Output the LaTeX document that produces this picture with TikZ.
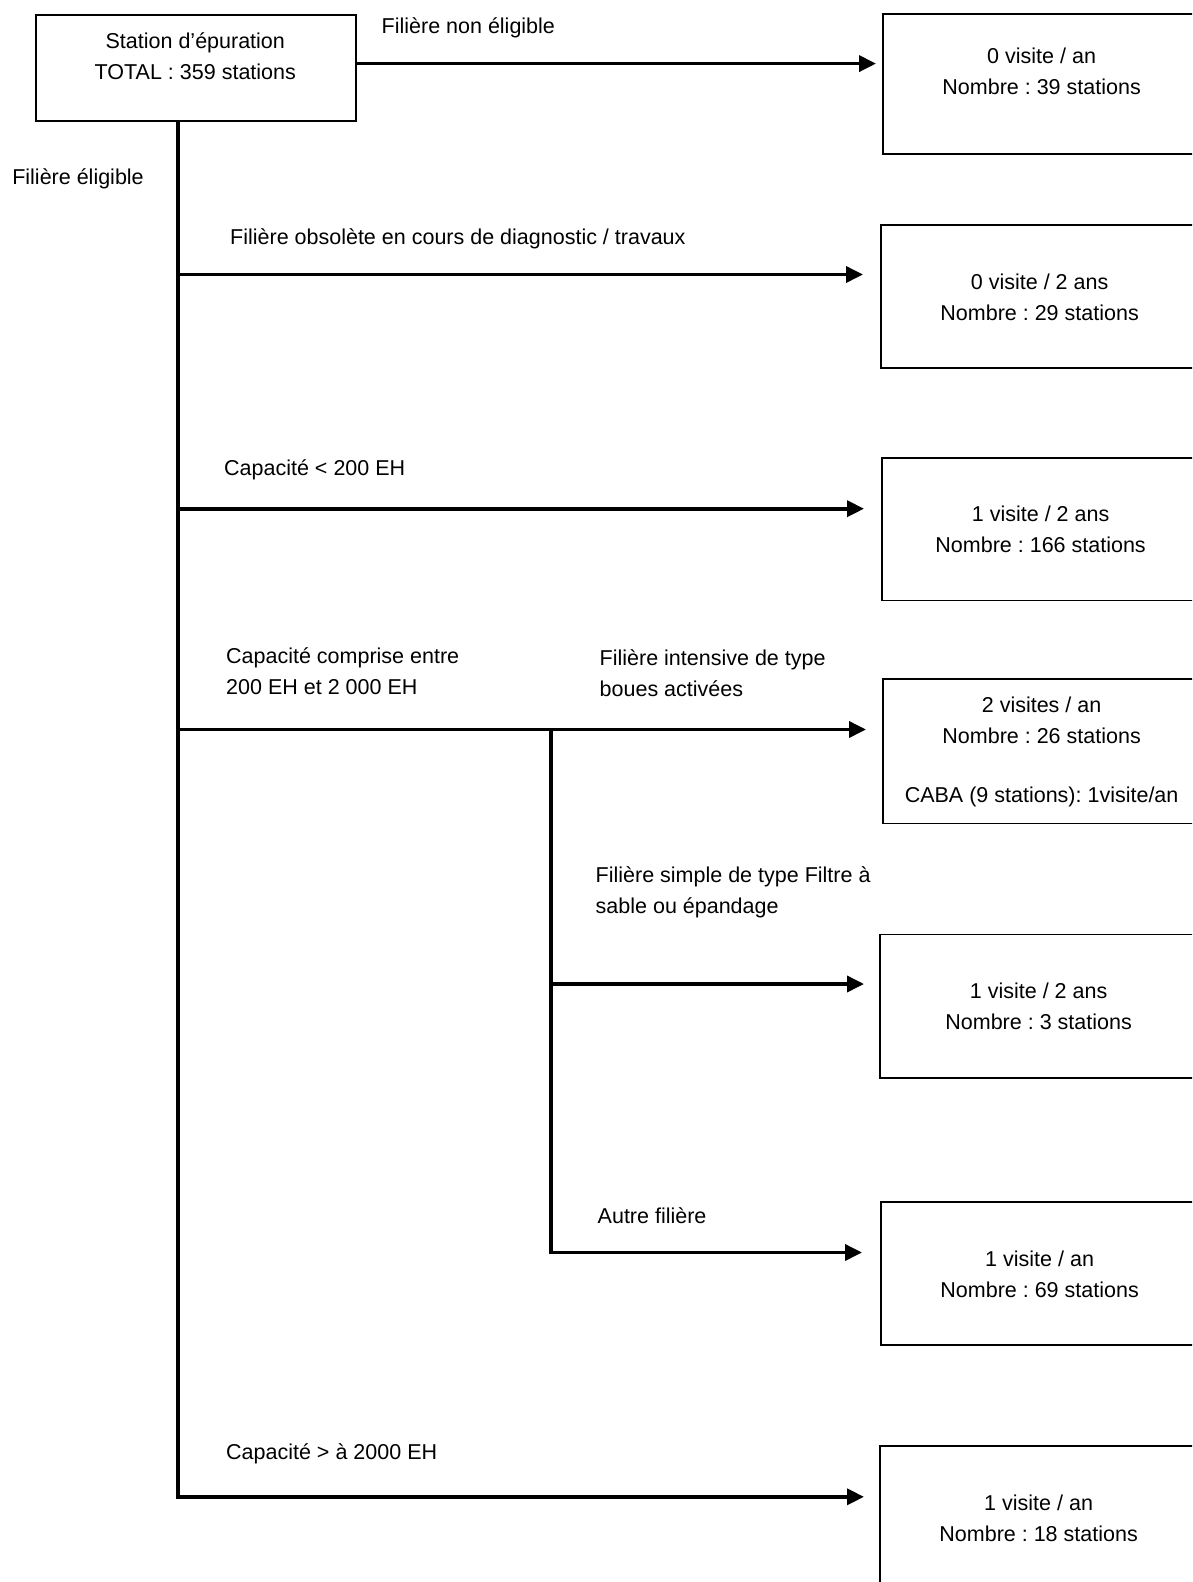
\documentclass[tikz,border=0pt]{standalone}
\usepackage{fontspec}
\setmainfont{Liberation Sans}
\usetikzlibrary{arrows.meta}
\frenchspacing
\begin{document}
\begin{tikzpicture}[x=1pt,y=-1pt,
  conn/.style={line width=3.8pt,line cap=rect},
  arr/.style={line width=3.6pt,-{Triangle[length=17pt,width=16pt]}},
  boxnode/.style={draw,line width=1.8pt,inner sep=0pt,anchor=north west,minimum width=319pt},
  txt/.style={font=\fontsize{21.5}{31}\selectfont,inner sep=0pt,align=center},
  lbl/.style={font=\fontsize{21.5}{31}\selectfont,inner sep=0pt,align=left,anchor=west}]
\useasboundingbox (0,0) rectangle (1192,1582);
\clip (0,0) rectangle (1192,1582);

% boxes
\node[boxnode,minimum width=320pt,minimum height=106pt] (top) at (35.3,14.1) {};
\node[txt] (ttop) at (195.3,56.5) {Station d’épuration\\TOTAL : 359 stations};

\node[boxnode,minimum height=140.3pt] (b1) at (882,13.1) {};
\node[txt] (t1) at (1041.6,71.6) {0 visite / an\\Nombre : 39 stations};

\node[boxnode,minimum height=143.4pt] (b2) at (880,224) {};
\node[txt] (t2) at (1039.6,297.2) {0 visite / 2 ans\\Nombre : 29 stations};

\node[boxnode,minimum height=142.3pt] (b3) at (881,457.2) {};
\node[txt] (t3) at (1040.6,529.3) {1 visite / 2 ans\\Nombre : 166 stations};

\node[boxnode,minimum height=144.4pt] (b4) at (882,678.2) {};
\node[txt] (t4a) at (1041.6,720.6) {2 visites / an\\Nombre : 26 stations};
\node[txt] (t4b) at (1041.6,797.3) {CABA (9 stations): 1visite/an};

\node[boxnode,minimum height=143.3pt] (b5) at (879,933.6) {};
\node[txt] (t5) at (1038.6,1006.2) {1 visite / 2 ans\\Nombre : 3 stations};

\node[boxnode,minimum height=143.4pt] (b6) at (880,1201) {};
\node[txt] (t6) at (1039.6,1274.2) {1 visite / an\\Nombre : 69 stations};

\node[boxnode,minimum height=160pt] (b7) at (879,1445.3) {};
\node[txt] (t7) at (1038.6,1518.5) {1 visite / an\\Nombre : 18 stations};

% labels
\node[lbl] (l1) at (381.5,28.3) {Filière non éligible};
\node[lbl] (l0) at (12.1,178.6) {Filière éligible};
\node[lbl] (l2) at (230,239.2) {Filière obsolète en cours de diagnostic / travaux};
\node[lbl] (l3) at (224,470.3) {Capacité < 200 EH};
\node[lbl] (l4) at (226,671.2) {Capacité comprise entre\\200 EH et 2 000 EH};
\node[lbl] (l5) at (599.5,673.2) {Filière intensive de type\\boues activées};
\node[lbl] (l6) at (595.5,892.7) {Filière simple de type Filtre à\\sable ou épandage};
\node[lbl] (l7) at (597.5,1215.2) {Autre filière};
\node[lbl] (l8) at (226,1453.4) {Capacité > à 2000 EH};

% connectors
\coordinate (e1) at (876,63.6);
\coordinate (mbot) at (177.6,1496.8);
\coordinate (e2) at (863,274.5);
\coordinate (e3) at (864,508.7);
\coordinate (e4) at (866,729.5);
\coordinate (sbot) at (551,1252.5);
\coordinate (e5) at (864,984);
\coordinate (e6) at (862,1252.5);
\coordinate (e7) at (864,1496.8);

\draw[arr] (top.east |- e1) -- (e1);
\draw[conn] (top.south -| mbot) -- (mbot);
\draw[arr] (mbot |- e2) -- (e2);
\draw[arr] (mbot |- e3) -- (e3);
\draw[arr] (mbot |- e4) -- (e4);
\draw[conn] (sbot |- e4) -- (sbot);
\draw[arr] (sbot |- e5) -- (e5);
\draw[arr] (sbot) -- (e6);
\draw[arr] (mbot) -- (e7);
\end{tikzpicture}
\end{document}
